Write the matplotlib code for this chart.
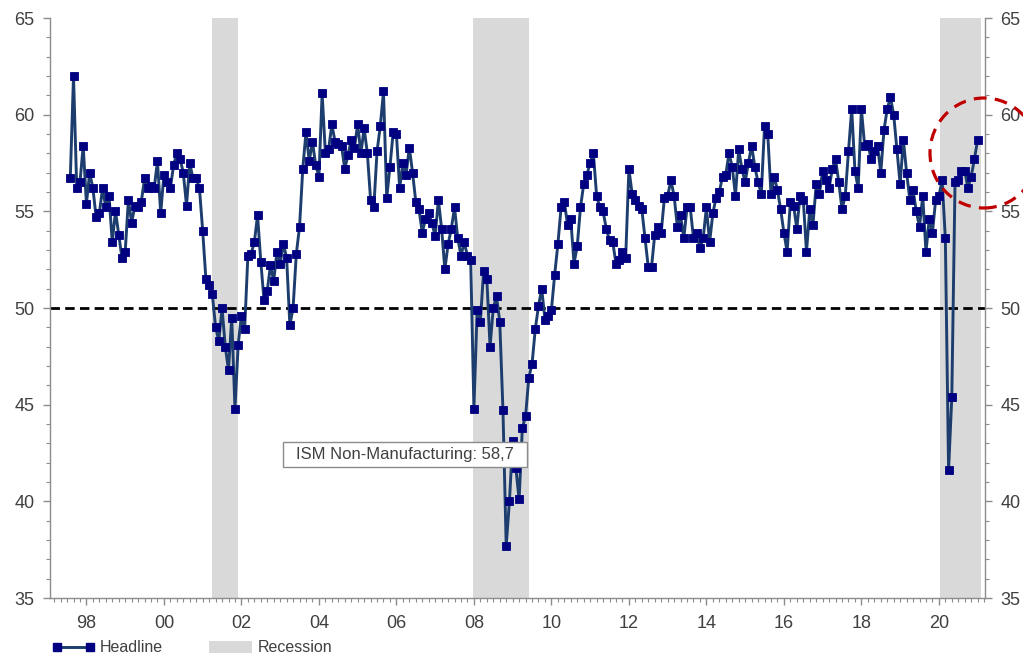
import numpy as np
import matplotlib
matplotlib.use("Agg")
import matplotlib.pyplot as plt
from matplotlib.patches import Ellipse, Patch, Rectangle
from matplotlib.lines import Line2D
from matplotlib.ticker import MultipleLocator

plt.rcParams['font.family'] = ['Liberation Sans', 'DejaVu Sans']

# ISM Non-Manufacturing headline index, monthly from Aug 1997 to Jan 2021
start_year, start_month = 1997, 8
headline = [
    56.7, 62.0, 56.2, 56.5, 58.4,                                          # 1997
    55.4, 57.0, 56.2, 54.7, 54.9, 56.2, 55.2, 55.8, 53.4, 55.0, 53.8, 52.6,  # 1998
    52.9, 55.6, 54.4, 55.3, 55.2, 55.5, 56.7, 56.2, 56.3, 56.2, 57.6, 54.9,  # 1999
    56.9, 56.5, 56.2, 57.4, 58.0, 57.7, 57.0, 55.3, 57.5, 56.7, 56.7, 56.2,  # 2000
    54.0, 51.5, 51.2, 50.7, 49.0, 48.3, 50.0, 48.0, 46.8, 49.5, 44.8, 48.1,  # 2001
    49.6, 48.9, 52.7, 52.8, 53.4, 54.8, 52.4, 50.4, 50.9, 52.2, 51.4, 52.9,  # 2002
    52.3, 53.3, 52.6, 49.1, 50.0, 52.8, 54.2, 57.2, 59.1, 57.6, 58.6, 57.4,  # 2003
    56.8, 61.1, 58.0, 58.2, 59.5, 58.6, 58.5, 58.4, 57.2, 57.9, 58.7, 58.3,  # 2004
    59.5, 58.0, 59.3, 58.0, 55.6, 55.2, 58.1, 59.4, 61.2, 55.7, 57.3, 59.1,  # 2005
    59.0, 56.2, 57.5, 56.9, 58.3, 57.0, 55.5, 55.1, 53.9, 54.6, 54.9, 54.4,  # 2006
    53.7, 55.6, 54.1, 52.0, 53.3, 54.1, 55.2, 53.6, 52.7, 53.4, 52.7, 52.5,  # 2007
    44.8, 49.9, 49.3, 51.9, 51.5, 48.0, 50.0, 50.6, 49.3, 44.7, 37.7, 40.0,  # 2008
    43.1, 41.7, 40.1, 43.8, 44.4, 46.4, 47.1, 48.9, 50.1, 51.0, 49.4, 49.6,  # 2009
    49.9, 51.7, 53.3, 55.2, 55.5, 54.3, 54.6, 52.3, 53.2, 55.2, 56.4, 56.9,  # 2010
    57.5, 58.0, 55.8, 55.2, 55.0, 54.1, 53.5, 53.4, 52.3, 52.5, 52.9, 52.6,  # 2011
    57.2, 55.9, 55.6, 55.3, 55.1, 53.6, 52.1, 52.1, 53.8, 54.2, 53.9, 55.7,  # 2012
    55.8, 56.6, 55.8, 54.2, 54.8, 53.6, 55.2, 55.2, 53.6, 53.9, 53.1, 53.6,  # 2013
    55.2, 53.4, 54.9, 55.7, 56.0, 56.8, 56.9, 58.0, 57.3, 55.8, 58.2, 57.2,  # 2014
    56.5, 57.5, 58.4, 57.3, 56.5, 55.9, 59.4, 59.0, 55.9, 56.8, 56.1, 55.1,  # 2015
    53.9, 52.9, 55.5, 55.3, 54.1, 55.8, 55.6, 52.9, 55.1, 54.3, 56.4, 55.9,  # 2016
    57.1, 56.6, 56.2, 57.2, 57.7, 56.5, 55.1, 55.8, 58.1, 60.3, 57.1, 56.2,  # 2017
    60.3, 58.4, 58.5, 57.7, 58.1, 58.4, 57.0, 59.2, 60.3, 60.9, 60.0, 58.2,  # 2018
    56.4, 58.7, 57.0, 55.6, 56.1, 55.0, 54.2, 55.8, 52.9, 54.6, 53.9, 55.6,  # 2019
    55.8, 56.6, 53.6, 41.6, 45.4, 56.5, 56.6, 57.1, 57.1, 56.2, 56.8, 57.7,  # 2020
    58.7,                                                                    # 2021
]

# US recessions (start, end) in decimal years
recessions = [(2001.25, 2001.90), (2007.97, 2009.42), (2020.04, 2021.09)]

x_tick_years = list(range(1998, 2021, 2))
x_tick_labels = [f"{y % 100:02d}" for y in x_tick_years]
y_ticks = [35, 40, 45, 50, 55, 60, 65]
threshold = 50
callout_text = "ISM Non-Manufacturing: 58,7"
series_label = "Headline"
recession_label = "Recession"

dates = start_year + (start_month - 1 + np.arange(len(headline))) / 12.0

W, H = 1023, 657
fig = plt.figure(figsize=(W / 100, H / 100), dpi=100)
ax = fig.add_axes([50 / W, (H - 598) / H, 935 / W, 580 / H])

grey = '#8c8c8c'
text_col = '#404040'
line_col = '#1c3d6e'
marker_col = '#000080'
shade_col = '#d9d9d9'

for a, b in recessions:
    ax.axvspan(a, b, color=shade_col, lw=0, zorder=0)

ax.axhline(threshold, color='black', lw=2.0, ls=(0, (3.4, 1.9)), zorder=1)

ax.plot(dates, headline, color=line_col, lw=2.1, marker='s', ms=5.4,
        mfc=marker_col, mec=marker_col, mew=0.6, zorder=3)

ax.set_xlim(1997.06, 2021.19)
ax.set_ylim(35, 65)

ax.set_xticks(x_tick_years)
ax.set_xticklabels(x_tick_labels)
ax.xaxis.set_minor_locator(MultipleLocator(1 / 6))
ax.set_yticks(y_ticks)
ax.yaxis.set_minor_locator(MultipleLocator(1))
ax.yaxis.set_ticks_position('both')

ax.tick_params(axis='both', which='major', direction='out', length=5, width=1,
               color=grey, labelsize=13, labelcolor=text_col, pad=6)
ax.tick_params(axis='x', which='major', pad=7)
ax.tick_params(axis='both', which='minor', direction='out', length=3, width=0.8,
               color=grey)
ax.tick_params(axis='y', which='both', left=True, right=True,
               labelleft=True, labelright=True)

for side in ('left', 'right', 'bottom'):
    ax.spines[side].set_color(grey)
    ax.spines[side].set_linewidth(1.0)
ax.spines['top'].set_visible(False)

# callout box with the latest reading
fig.add_artist(Rectangle((283 / W, 1 - 467 / H), 244 / W, 25 / H,
                         transform=fig.transFigure, fc='white', ec=grey,
                         lw=1.0, zorder=6))
fig.text(405 / W, 1 - 455 / H, callout_text, ha='center', va='center',
         fontsize=12, color=text_col, zorder=7)

# dashed ring highlighting the latest readings
ring = Ellipse((984 / W, 1 - 153 / H), width=108 / W, height=110 / H,
               transform=fig.transFigure, fill=False, ec='#c00000', lw=2.3,
               ls=(0, (4, 2.6)), clip_on=False, zorder=10)
fig.add_artist(ring)

handles = [
    Line2D([], [], color=line_col, lw=2.1, marker='s', ms=5.4,
           mfc=marker_col, mec=marker_col),
    Patch(fc=shade_col, ec='none'),
]
fig.legend(handles, [series_label, recession_label], loc='center left',
           bbox_to_anchor=(52 / W, 1 - 648 / H), ncol=2, frameon=False,
           fontsize=11.5, numpoints=2, handlelength=2.7, handletextpad=0.3,
           columnspacing=2.9, borderpad=0, borderaxespad=0, labelcolor=text_col)

fig.savefig('out.png', dpi=100)
